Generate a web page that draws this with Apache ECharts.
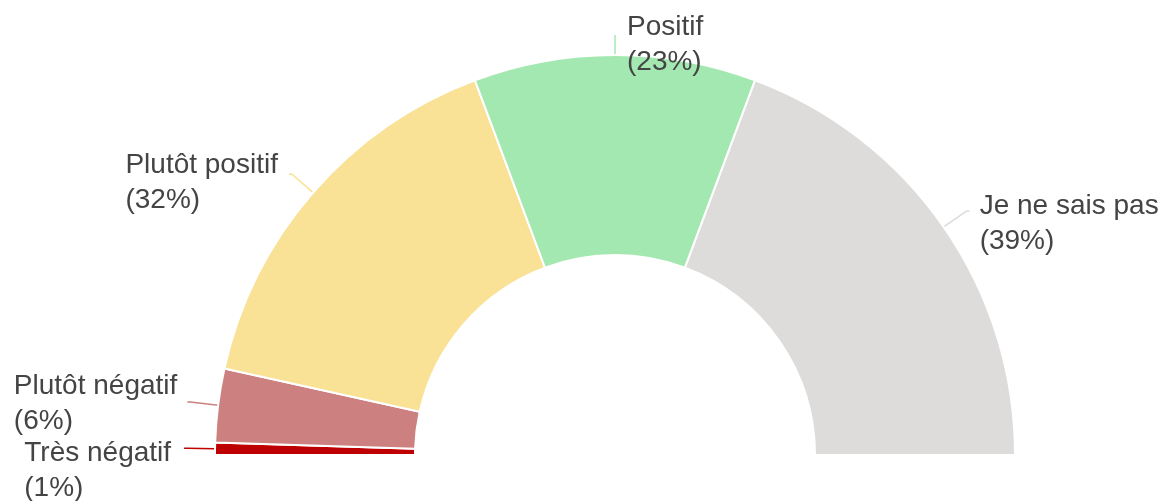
<!DOCTYPE html>
<html>
<head>
<meta charset="utf-8">
<script src="https://cdn.jsdelivr.net/npm/echarts@6/dist/echarts.min.js"></script>
<style>
  html, body { margin: 0; padding: 0; background: #fff; }
  #main { width: 1164px; height: 501px; }
</style>
</head>
<body>
<div id="main"></div>
<script>
// answers, ordered clockwise from the left end of the half ring
var categories = ['Très négatif', 'Plutôt négatif', 'Plutôt positif', 'Positif', 'Je ne sais pas'];
var percents = [1, 6, 32, 23, 39];
var colors = ['#bf0000', '#cd8080', '#f9e196', '#a3e8b0', '#dedbdb'];

var chart = echarts.init(document.getElementById('main'));

var data = [];
for (var i = 0; i < categories.length; i++) {
    var item = {
        name: categories[i],
        value: percents[i],
        itemStyle: { color: colors[i] },
        labelLine: { lineStyle: { color: colors[i] } }
    };
    // the top one gets a short straight tick
    if (i === 3) {
        item.labelLine.length = 20;
        item.labelLine.length2 = 0;
    }
    data.push(item);
}

var txt = {
    align: 'left',
    color: '#444',
    fontFamily: 'Liberation Sans, Arial, sans-serif',
    fontSize: 28,
    lineHeight: 35
};

var option = {
    animation: false,
    series: [
        {
            type: 'pie',
            center: [615, 455],
            radius: [200, 400],
            startAngle: 180,
            endAngle: 0,
            clockwise: true,
            avoidLabelOverlap: false,
            minShowLabelAngle: 0,
            itemStyle: {
                borderColor: '#fff',
                borderWidth: 2
            },
            label: {
                show: true,
                position: 'outside',
                color: '#444',
                fontFamily: 'Liberation Sans, Arial, sans-serif',
                fontSize: 28,
                lineHeight: 35,
                distanceToLabelLine: 13,
                formatter: function (p) {
                    return '{t|' + p.name + '}\n{t|(' + p.value + '%)}';
                },
                rich: { t: txt }
            },
            labelLine: {
                show: true,
                length: 28,
                length2: 3,
                lineStyle: { width: 1.5 }
            },
            labelLayout: function (params) {
                var i = params.dataIndex;
                if (i === 3) {
                    // top label sits to the right of its line
                    return { dx: params.labelRect.width + 25, dy: 10 };
                }
                if (i === 0) return { dy: 22 };
                if (i === 1) return { dx: 3, dy: 2 };
                if (i === 4) return { dx: -3, dy: 13 };
                return { dx: 2, dy: 9 };
            },
            emphasis: { disabled: true },
            data: data
        }
    ]
};

option && chart.setOption(option);
</script>
</body>
</html>
